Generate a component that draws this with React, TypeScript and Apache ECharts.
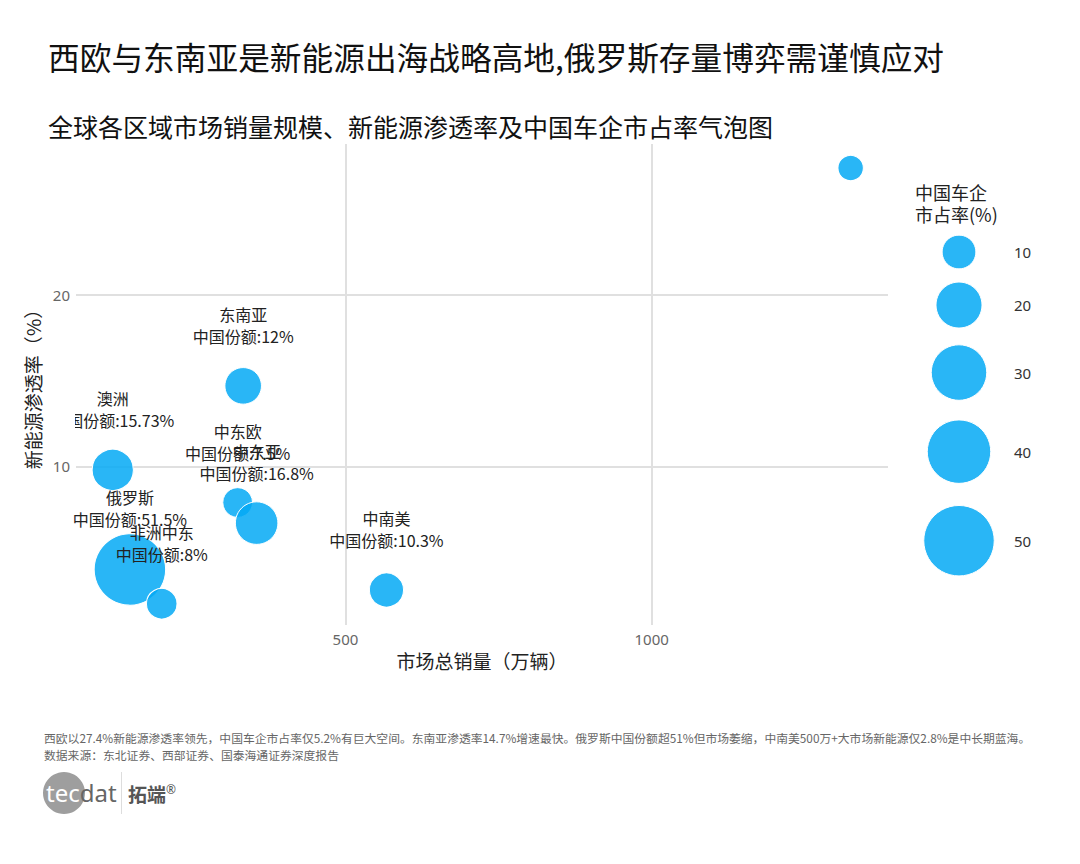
import React, { useEffect, useRef } from 'react';
import * as echarts from 'echarts';

// ---- data ----
const regions = ['西欧', '东南亚', '澳洲', '中东欧', '中东亚', '俄罗斯', '非洲中东', '中南美'];
const totalSales = [1325, 333, 120, 324, 355, 148, 200, 567]; // 万辆
const nevRate = [27.4, 14.7, 9.8, 7.9, 6.7, 4.0, 2.0, 2.8]; // %
const chinaShare = [5.2, 12, 15.73, 7.5, 16.8, 51.5, 8, 10.3]; // %
const labelVisible = [false, true, true, true, true, true, true, true];
const xTicks = [500, 1000];
const yTicks = [10, 20];
const legendValues = [10, 20, 30, 40, 50];

const TITLE = '西欧与东南亚是新能源出海战略高地,俄罗斯存量博弈需谨慎应对';
const SUBTITLE = '全球各区域市场销量规模、新能源渗透率及中国车企市占率气泡图';
const NOTE1 = '西欧以27.4%新能源渗透率领先，中国车企市占率仅5.2%有巨大空间。东南亚渗透率14.7%增速最快。俄罗斯中国份额超51%但市场萎缩，中南美500万+大市场新能源仅2.8%是中长期蓝海。';
const NOTE2 = '数据来源：东北证券、西部证券、国泰海通证券深度报告';

const FONT = '"Noto Sans", "Noto Sans CJK SC", sans-serif';
const CJK = '"Noto Sans CJK SC", "Noto Sans", sans-serif';
const BUBBLE = 'rgba(3,169,244,0.85)';

const bubbleSize = (v: number) => 4 + 9.4 * Math.sqrt(v);

export default function App() {
  const ref = useRef<HTMLDivElement>(null);
  useEffect(() => {
    if (!ref.current) return;
    const chart = echarts.init(ref.current, undefined, { renderer: 'svg' });

    // size legend layout
    const legendX = 959;
    const legendCenters: number[] = [];
    legendValues.forEach((v, i) => {
      if (i === 0) legendCenters.push(252);
      else {
        const r0 = bubbleSize(legendValues[i - 1]) / 2;
        const r1 = bubbleSize(v) / 2;
        legendCenters.push(legendCenters[i - 1] + 1.33 * (r0 + r1));
      }
    });
    const legendGraphics: any[] = [];
    legendValues.forEach((v, i) => {
      legendGraphics.push({
        type: 'circle',
        shape: { cx: legendX, cy: legendCenters[i], r: bubbleSize(v) / 2 },
        style: { fill: BUBBLE, stroke: '#fff', lineWidth: 1 },
      });
      legendGraphics.push({
        type: 'text',
        x: 1014,
        y: legendCenters[i],
        style: { text: String(v), fill: '#333', font: `15px ${FONT}`, verticalAlign: 'middle' },
      });
    });

    chart.setOption({
      animation: false,
      backgroundColor: '#fff',
      textStyle: { fontFamily: CJK },
      title: [
        { text: TITLE, left: 43, top: 35, textStyle: { fontSize: 31.7, fontWeight: 'normal', color: '#111', fontFamily: CJK } },
        { text: SUBTITLE, left: 43, top: 108, textStyle: { fontSize: 25, fontWeight: 'normal', color: '#111', fontFamily: CJK } },
      ],
      grid: { left: 76, right: 192, top: 144, bottom: 239 },
      xAxis: {
        type: 'value',
        min: 60,
        max: 1386,
        name: '市场总销量（万辆）',
        nameLocation: 'middle',
        nameGap: 22,
        nameTextStyle: { color: '#222', fontSize: 19, fontFamily: CJK },
        axisLine: { show: false },
        axisTick: { show: false, customValues: xTicks },
        axisLabel: { customValues: xTicks, formatter: (v: number) => String(v), color: '#666', fontSize: 15, margin: 6, fontFamily: FONT },
        splitLine: { show: true, lineStyle: { color: '#e0e0e0', width: 2 } },
      },
      yAxis: {
        type: 'value',
        min: 0.76,
        max: 28.8,
        name: '新能源渗透率（%）',
        nameLocation: 'middle',
        nameGap: 28,
        nameTextStyle: { color: '#222', fontSize: 19, fontFamily: CJK },
        axisLine: { show: false },
        axisTick: { show: false, customValues: yTicks },
        axisLabel: { customValues: yTicks, formatter: (v: number) => String(v), color: '#666', fontSize: 15, margin: 6, fontFamily: FONT },
        splitLine: { show: true, lineStyle: { color: '#e0e0e0', width: 2 } },
      },
      series: [
        {
          type: 'scatter',
          data: regions.map((r, i) => ({
            name: r,
            value: [totalSales[i], nevRate[i], chinaShare[i]],
            label: { show: labelVisible[i] },
          })),
          symbolSize: (val: number[]) => bubbleSize(val[2]),
          itemStyle: { color: BUBBLE, opacity: 1, borderColor: '#fff', borderWidth: 1 },
          label: {
            show: true,
            position: 'inside',
            offset: [0, -61],
            formatter: (p: any) => `${p.name}\n中国份额:${p.value[2]}%`,
            color: '#222',
            fontSize: 16,
            lineHeight: 22,
            fontFamily: CJK,
            textBorderWidth: 0,
          },
          emphasis: { disabled: true },
        },
      ],
      graphic: [
        // plot-area clipping of labels at the left edge
        { type: 'rect', z: 100, shape: { x: 49, y: 405, width: 26, height: 26 }, style: { fill: '#fff' } },
        {
          type: 'text', x: 915, y: 181, z: 10,
          style: { text: '中国车企\n市占率(%)', fill: '#222', font: `18px ${CJK}`, lineHeight: 22 },
        },
        ...legendGraphics,
        { type: 'text', x: 44, y: 737, style: { text: NOTE1, fill: '#666', font: `11.8px ${CJK}`, verticalAlign: 'middle' } },
        { type: 'text', x: 44, y: 754, style: { text: NOTE2, fill: '#666', font: `11.8px ${CJK}`, verticalAlign: 'middle' } },
        { type: 'circle', shape: { cx: 64, cy: 793, r: 21 }, style: { fill: '#9e9e9e' } },
        {
          type: 'text', x: 46, y: 792, z: 10,
          style: {
            text: '{a|tec}{b|dat}',
            verticalAlign: 'middle',
            rich: {
              a: { fill: '#fff', fontSize: 24, fontFamily: FONT },
              b: { fill: '#666', fontSize: 24, fontFamily: FONT },
            },
          },
        },
        { type: 'line', shape: { x1: 121.5, y1: 772, x2: 121.5, y2: 814 }, style: { stroke: '#ddd', lineWidth: 1 } },
        {
          type: 'text', x: 128, y: 793,
          style: {
            text: '{a|拓端}{b|®}',
            verticalAlign: 'middle',
            rich: {
              a: { fill: '#555', fontSize: 19, fontWeight: 'bold', fontFamily: CJK },
              b: { fill: '#555', fontSize: 12, fontFamily: FONT, verticalAlign: 'top', padding: [0, 0, 8, 0] },
            },
          },
        },
      ],
    });
    return () => chart.dispose();
  }, []);
  return <div ref={ref} style={{ position: 'fixed', left: 0, top: 0, width: 1080, height: 864 }} />;
}
